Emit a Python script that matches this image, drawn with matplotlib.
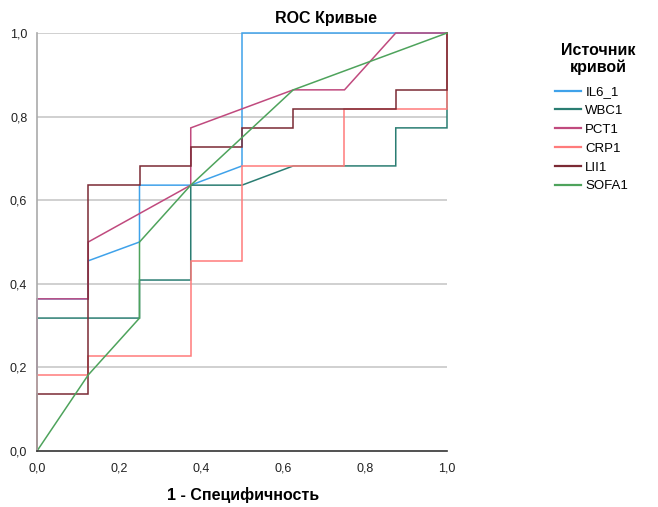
import matplotlib
matplotlib.use("Agg")
import matplotlib.pyplot as plt
from matplotlib.lines import Line2D

plt.rcParams['font.family'] = ['Liberation Sans', 'DejaVu Sans']

series_names = ["IL6_1", "WBC1", "PCT1", "CRP1", "LII1", "SOFA1"]
series_colors = ["#3fa2ea", "#2a7d72", "#c04a7e", "#ff7b7b", "#7b2a34", "#4ea35c"]

il6_x = [0, 0, 0.125, 0.125, 0.25, 0.25, 0.375, 0.5, 0.5, 1.0]
il6_y = [0, 0.364, 0.364, 0.455, 0.5, 0.636, 0.636, 0.682, 1.0, 1.0]

wbc_x = [0, 0, 0.25, 0.25, 0.375, 0.375, 0.5, 0.625, 0.875, 0.875, 1.0, 1.0]
wbc_y = [0, 0.318, 0.318, 0.409, 0.409, 0.636, 0.636, 0.682, 0.682, 0.773, 0.773, 1.0]

pct_x = [0, 0, 0.125, 0.125, 0.375, 0.375, 0.625, 0.75, 0.875, 1.0]
pct_y = [0, 0.364, 0.364, 0.5, 0.636, 0.773, 0.864, 0.864, 1.0, 1.0]

crp_x = [0, 0, 0.125, 0.125, 0.375, 0.375, 0.5, 0.5, 0.75, 0.75, 1.0, 1.0]
crp_y = [0, 0.182, 0.182, 0.227, 0.227, 0.455, 0.455, 0.682, 0.682, 0.818, 0.818, 1.0]

lii_x = [0, 0, 0.125, 0.125, 0.25, 0.25, 0.375, 0.375, 0.5, 0.5, 0.625, 0.625, 0.875, 0.875, 1.0, 1.0]
lii_y = [0, 0.136, 0.136, 0.636, 0.636, 0.682, 0.682, 0.727, 0.727, 0.773, 0.773, 0.818, 0.818, 0.864, 0.864, 1.0]

sofa_x = [0, 0.125, 0.25, 0.25, 0.375, 0.625, 1.0]
sofa_y = [0, 0.182, 0.318, 0.5, 0.636, 0.864, 1.0]

tick_vals = [0.0, 0.2, 0.4, 0.6, 0.8, 1.0]
tick_labels = ["0,0", "0,2", "0,4", "0,6", "0,8", "1,0"]

W, H = 658, 507
fig = plt.figure(figsize=(W / 100, H / 100), dpi=100)
left, right, top, bottom = 37, 447, 33, 451
ax = fig.add_axes([left / W, 1 - bottom / H, (right - left) / W, (bottom - top) / H])

for v in tick_vals[1:]:
    ax.axhline(v, color="#c8c8c8", lw=1.2, zorder=0)

all_x = [il6_x, wbc_x, pct_x, crp_x, lii_x, sofa_x]
all_y = [il6_y, wbc_y, pct_y, crp_y, lii_y, sofa_y]
for xs, ys, c in zip(all_x, all_y, series_colors):
    ax.plot(xs, ys, color=c, lw=1.1, solid_joinstyle="miter", clip_on=False, zorder=2)

ax.set_xlim(0, 1)
ax.set_ylim(0, 1)
ax.set_xticks(tick_vals)
ax.set_xticklabels(tick_labels)
ax.set_yticks(tick_vals)
ax.set_yticklabels(tick_labels)
ax.tick_params(length=0, labelsize=9, colors="#222222")
ax.tick_params(axis="x", pad=8)
ax.tick_params(axis="y", pad=7)
for s in ["top", "right"]:
    ax.spines[s].set_visible(False)
ax.spines["left"].set_color("#aaaaaa")
ax.spines["left"].set_linewidth(1.2)
ax.spines["bottom"].set_color("#333333")
ax.spines["bottom"].set_linewidth(1.2)

fig.text(326 / W, 1 - 18 / H, "ROC Кривые", ha="center", va="center",
         fontsize=11.5, fontweight="bold")
fig.text(243 / W, 1 - 495 / H, "1 - Специфичность", ha="center", va="center",
         fontsize=11.5, fontweight="bold")
fig.text(598 / W, 1 - 59 / H, "Источник\nкривой", ha="center", va="center",
         fontsize=11.5, fontweight="bold", linespacing=1.12)

handles = [Line2D([0], [0], color=c, lw=1.6) for c in series_colors]
leg = fig.legend(handles, series_names,
                 loc="upper left", bbox_to_anchor=(555 / W, 1 - 86 / H),
                 frameon=False, fontsize=9.5, handlelength=2.0, handletextpad=0.3,
                 labelspacing=0.5, borderaxespad=0, borderpad=0)

fig.savefig("out.png", dpi=100)
